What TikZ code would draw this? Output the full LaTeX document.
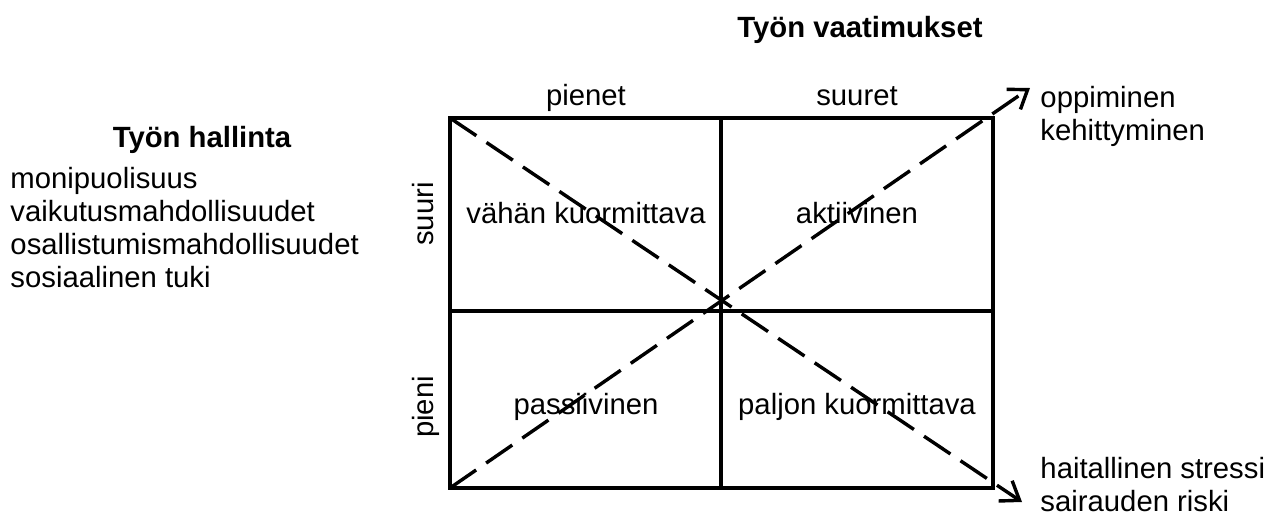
\documentclass[tikz,border=0pt]{standalone}
\usepackage{fontspec}
\setmainfont{Liberation Sans}
\usetikzlibrary{arrows.meta,positioning}

\begin{document}
\begin{tikzpicture}[x=0.0144cm,y=-0.0144cm,
    grid/.style={line width=1.5pt},
    diag/.style={line width=1.4pt,dash pattern=on 13pt off 5pt,
                 -{Straight Barb[length=7pt,width=10pt]}},
    lbl/.style={font=\fontsize{12}{14}\selectfont,inner sep=0pt,anchor=base},
    head/.style={lbl,font=\fontsize{12}{14}\selectfont\bfseries},
    item/.style={lbl,anchor=base west},
    side/.style={lbl,rotate=90}]

    \useasboundingbox (0,0) rectangle (1264,520);

    % the four fields
    \coordinate (tl) at (450,118);
    \coordinate (br) at (993,488);
    \coordinate (bl) at (450,488);
    \coordinate (mid) at (721,311);
    \draw[grid] (tl) rectangle (br);
    \draw[grid] (mid |- tl) -- (mid |- br);
    \draw[grid] (tl |- mid) -- (br |- mid);

    % titles
    \node[head] (vaat) at (860,37) {Työn vaatimukset};
    \node[head] (hall) at (202,147) {Työn hallinta};
    \node[lbl] (pienet) at (586,105) {pienet};
    \node[lbl] (suuret) at (857,105) {suuret};
    \node[side] (suuri) at (433,214) {suuri};
    \node[side] (pieni) at (433,407) {pieni};

    % left list
    \foreach \t [count=\i] in {monipuolisuus,vaikutusmahdollisuudet,
                               osallistumismahdollisuudet,sosiaalinen tuki} {
      \node[item] (h\i) at (10,{188+33.3*(\i-1)}) {\t};
    }

    % field names
    \node[lbl] (vk) at (586,223) {vähän kuormittava};
    \node[lbl] (ak) at (857,223) {aktiivinen};
    \node[lbl] (pa) at (586,414) {passiivinen};
    \node[lbl] (pk) at (857,414) {paljon kuormittava};

    % outcomes
    \node[item] (opp) at (1040,107) {oppiminen};
    \node[item] (keh) at (1040,140) {kehittyminen};
    \node[item] (hai) at (1040,478) {haitallinen stressi};
    \node[item] (sai) at (1040,511) {sairauden riski};

    % diagonals
    \coordinate (up) at (1030,88);
    \coordinate (down) at (1022,502);
    \draw[diag] (bl) -- (up);
    \draw[diag] (tl) -- (down);
\end{tikzpicture}
\end{document}
